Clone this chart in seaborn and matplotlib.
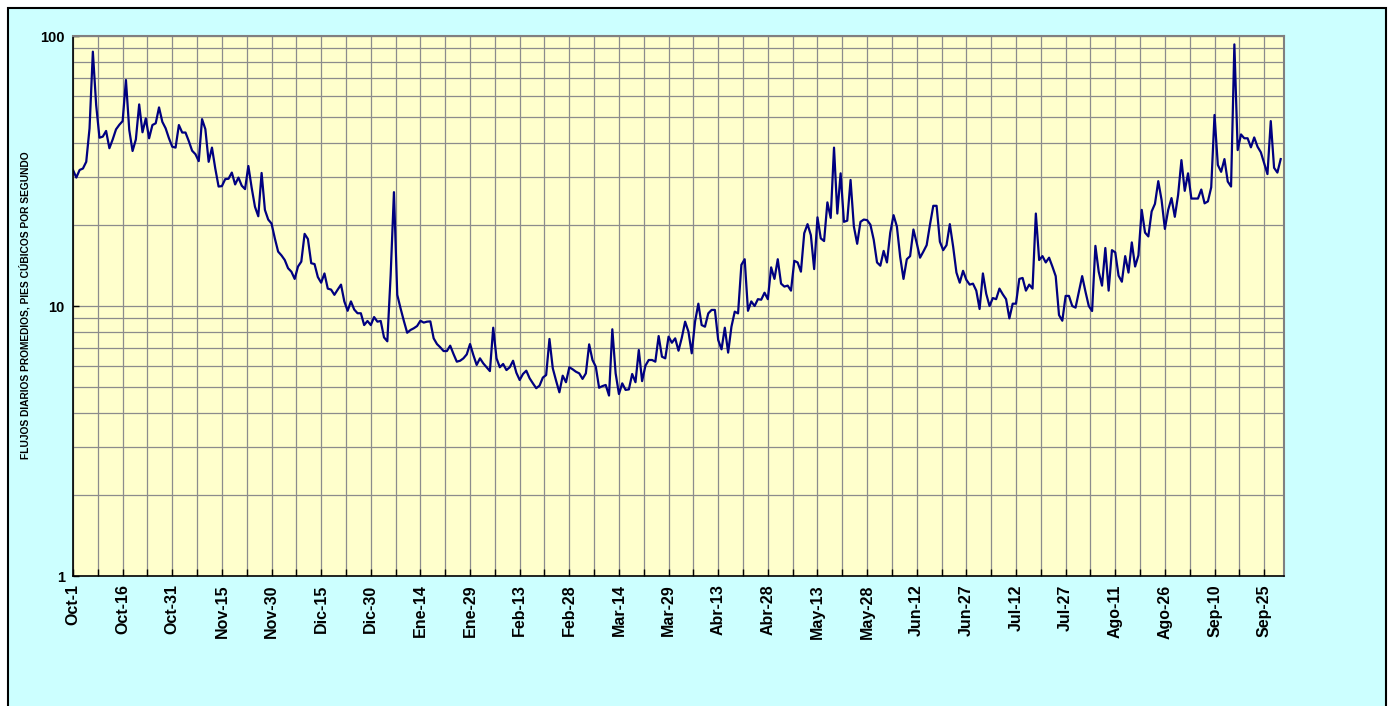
import numpy as np
import pandas as pd
import matplotlib
matplotlib.use("Agg")
import matplotlib.pyplot as plt
from matplotlib.patches import Rectangle
from matplotlib.ticker import FixedLocator, NullFormatter
import seaborn as sns

# daily mean flow, Oct-1 .. Sep-30 (366 days, leap year)
flow = [
    31.9, 29.9, 31.9, 32.3, 34.2, 45.5, 87.5, 55.5, 42.0, 42.4,
    44.5, 38.4, 41.4, 45.1, 46.9, 48.4, 68.7, 44.9, 37.5, 41.4,
    55.8, 44.0, 49.5, 41.8, 46.8, 47.5, 54.4, 48.1, 45.5, 41.8,
    38.9, 38.6, 46.8, 43.9, 43.9, 40.8, 37.6, 36.5, 34.4, 49.2,
    45.2, 34.2, 38.6, 32.3, 27.7, 27.8, 29.5, 29.6, 31.2, 28.2,
    29.9, 27.9, 27.1, 33.0, 27.4, 23.3, 21.5, 31.1, 22.7, 20.9,
    20.2, 17.8, 15.9, 15.4, 14.8, 13.8, 13.4, 12.6, 14.0, 14.6,
    18.5, 17.7, 14.4, 14.3, 12.8, 12.2, 13.2, 11.6, 11.5, 11.0,
    11.5, 12.0, 10.4, 9.6, 10.4, 9.7, 9.4, 9.4, 8.5, 8.8,
    8.5, 9.1, 8.75, 8.8, 7.65, 7.4, 13.0, 26.4, 11.0, 9.8,
    8.8, 7.96, 8.15, 8.27, 8.43, 8.82, 8.68, 8.75, 8.77, 7.59,
    7.23, 7.03, 6.81, 6.81, 7.13, 6.64, 6.22, 6.27, 6.40, 6.62,
    7.23, 6.58, 6.05, 6.40, 6.13, 5.93, 5.74, 8.31, 6.40, 5.93,
    6.10, 5.79, 5.93, 6.27, 5.66, 5.32, 5.60, 5.76, 5.40, 5.17,
    4.96, 5.07, 5.43, 5.55, 7.55, 5.88, 5.29, 4.79, 5.52, 5.22,
    5.93, 5.83, 5.71, 5.63, 5.37, 5.63, 7.21, 6.31, 5.96, 4.98,
    5.05, 5.10, 4.66, 8.20, 5.63, 4.72, 5.17, 4.89, 4.91, 5.60,
    5.22, 6.87, 5.27, 6.01, 6.31, 6.31, 6.22, 7.74, 6.49, 6.40,
    7.70, 7.31, 7.59, 6.83, 7.63, 8.75, 8.04, 6.68, 8.75, 10.2,
    8.50, 8.38, 9.39, 9.67, 9.67, 7.48, 6.91, 8.31, 6.72, 8.38,
    9.53, 9.39, 14.2, 14.9, 9.6, 10.4, 10.0, 10.6, 10.55, 11.2,
    10.6, 13.9, 12.6, 14.9, 12.1, 11.8, 11.9, 11.4, 14.7, 14.5,
    13.4, 18.6, 20.1, 18.3, 13.7, 21.3, 17.8, 17.4, 24.2, 21.2,
    38.6, 22.0, 31.0, 20.5, 20.7, 29.3, 19.7, 17.0, 20.5, 20.9,
    20.8, 20.0, 17.6, 14.5, 14.1, 16.0, 14.5, 18.7, 21.7, 19.7,
    15.2, 12.6, 14.9, 15.3, 19.2, 17.1, 15.1, 15.9, 16.8, 20.0,
    23.5, 23.5, 17.3, 16.1, 16.8, 20.1, 16.6, 13.3, 12.2, 13.5,
    12.5, 12.0, 12.1, 11.4, 9.75, 13.2, 11.1, 10.0, 10.7, 10.6,
    11.6, 11.05, 10.6, 9.0, 10.2, 10.2, 12.6, 12.7, 11.4, 12.0,
    11.6, 22.0, 14.8, 15.3, 14.5, 15.1, 14.0, 12.9, 9.26, 8.82,
    10.9, 10.9, 10.0, 9.86, 11.3, 12.9, 11.3, 10.0, 9.58, 16.7,
    13.4, 11.9, 16.4, 11.4, 16.1, 15.8, 12.95, 12.3, 15.3, 13.3,
    17.2, 14.0, 15.4, 22.7, 18.7, 18.1, 22.4, 23.9, 29.0, 24.7,
    19.3, 22.7, 25.1, 21.4, 25.8, 34.7, 26.7, 31.0, 25.0, 25.0,
    25.0, 27.0, 24.0, 24.4, 27.5, 51.0, 33.3, 31.4, 35.0, 28.9,
    27.7, 93.1, 37.8, 43.2, 41.8, 41.8, 38.7, 42.1, 38.9, 37.1,
    33.8, 30.8, 48.4, 32.5, 31.2, 35.0,
]
day = list(range(len(flow)))

date_labels = ["Oct-1", "Oct-16", "Oct-31", "Nov-15", "Nov-30", "Dic-15",
               "Dic-30", "Ene-14", "Ene-29", "Feb-13", "Feb-28", "Mar-14",
               "Mar-29", "Abr-13", "Abr-28", "May-13", "May-28", "Jun-12",
               "Jun-27", "Jul-12", "Jul-27", "Ago-11", "Ago-26", "Sep-10",
               "Sep-25"]
label_step = 15
y_labels = ["1", "10", "100"]

df = pd.DataFrame({"day": day, "flow": flow})

plt.rcParams["font.family"] = ["Liberation Sans", "DejaVu Sans"]

fig = plt.figure(figsize=(13.9, 7.06), dpi=100, facecolor="white")
bg = Rectangle((8 / 1390, -0.02), 1377.5 / 1390, 1.02 - 8 / 706,
               transform=fig.transFigure, facecolor="#CCFFFF",
               edgecolor="black", linewidth=1.5, zorder=-10)
fig.patches.append(bg)

ax = fig.add_axes([73 / 1390, 1 - 576 / 706, 1211 / 1390, 540 / 706])
ax.set_facecolor("#FFFFCC")

sns.lineplot(data=df, x="day", y="flow", ax=ax, color="#000080", linewidth=1.6)

ax.set_yscale("log")
ax.set_ylim(1, 100)
ax.set_xlim(0, 366)

# x axis: labels every 15 days, grid every 7.5
major_x = [i * label_step for i in range(len(date_labels))]
minor_x = [m + label_step / 2 for m in major_x]
ax.set_xticks(major_x)
ax.set_xticklabels(date_labels, rotation=90, fontsize=11.5, fontweight="bold")
ax.xaxis.set_minor_locator(FixedLocator(minor_x))

ax.yaxis.set_major_locator(FixedLocator([1, 10, 100]))
ax.set_yticklabels(y_labels, fontsize=10.5, fontweight="bold")
ax.yaxis.set_minor_locator(FixedLocator([k * 10 ** e for e in range(2) for k in range(2, 10)]))
ax.yaxis.set_minor_formatter(NullFormatter())

ax.grid(True, which="both", color="#8C8C8C", linewidth=0.9)
ax.set_axisbelow(True)
ax.tick_params(axis="x", which="both", direction="in", length=5, width=1, pad=6)
ax.tick_params(axis="y", which="major", direction="in", length=4, width=1, pad=6)
ax.tick_params(axis="y", which="minor", length=0)

ax.set_xlabel("")
ax.set_ylabel("")
fig.text(25 / 1390, 1 - 305 / 706, "FLUJOS DIARIOS PROMEDIOS, PIES CÚBICOS POR SEGUNDO",
         rotation=90, fontsize=7.4, fontweight="bold", ha="center", va="center")

for side in ["left", "bottom"]:
    ax.spines[side].set_color("black")
    ax.spines[side].set_linewidth(1.2)
for side in ["top", "right"]:
    ax.spines[side].set_color("#808080")
    ax.spines[side].set_linewidth(1.5)

fig.savefig("out.png", dpi=100, facecolor="white")
